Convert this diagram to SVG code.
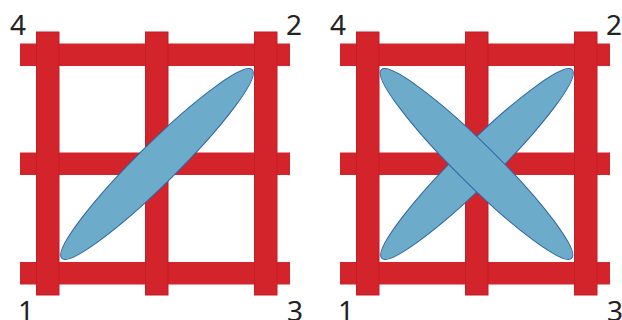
<svg xmlns="http://www.w3.org/2000/svg" width="622" height="320" viewBox="0 0 622 320">
<style>
.h{fill:#d3232b}
.v{fill:#d3232b;stroke:#c21f27;stroke-width:1}
.e{fill:#6dabcb;stroke:#2f66a3;stroke-width:1}
.t{font-family:"Noto Sans","Liberation Sans",sans-serif;font-size:28px;fill:#222}
</style>
<rect width="622" height="320" fill="#fff"/>
<g id="grid-left">
<rect class="h" x="20" y="43.5" width="270" height="22.5"/>
<rect class="h" x="20" y="152.5" width="270" height="22.5"/>
<rect class="h" x="20" y="262" width="270" height="22.5"/>
<rect class="v" x="36.5" y="32" width="22.5" height="263"/>
<rect class="v" x="145.5" y="32" width="22.5" height="263"/>
<rect class="v" x="254.5" y="32" width="22.5" height="263"/>
</g>
<g id="ellipse-left">
<ellipse class="e" cx="157" cy="164" rx="134" ry="20" transform="rotate(-44.7 157 164)"/>
</g>
<g id="grid-right">
<rect class="h" x="340" y="43.5" width="270" height="22.5"/>
<rect class="h" x="340" y="152.5" width="270" height="22.5"/>
<rect class="h" x="340" y="262" width="270" height="22.5"/>
<rect class="v" x="356.5" y="32" width="22.5" height="263"/>
<rect class="v" x="465.5" y="32" width="22.5" height="263"/>
<rect class="v" x="574.5" y="32" width="22.5" height="263"/>
</g>
<g id="ellipses-right">
<ellipse class="e" cx="477" cy="164" rx="134" ry="20" transform="rotate(-44.7 477 164)"/>
<ellipse class="e" cx="476.5" cy="164" rx="134" ry="20" transform="rotate(44.7 476.5 164)"/>
</g>
<g id="labels">
<text class="t" x="10" y="35">4</text>
<text class="t" x="286" y="35">2</text>
<text class="t" x="18" y="321">1</text>
<text class="t" x="287" y="321">3</text>
<text class="t" x="330" y="35">4</text>
<text class="t" x="606" y="35">2</text>
<text class="t" x="338" y="321">1</text>
<text class="t" x="607" y="321">3</text>
</g>
</svg>
